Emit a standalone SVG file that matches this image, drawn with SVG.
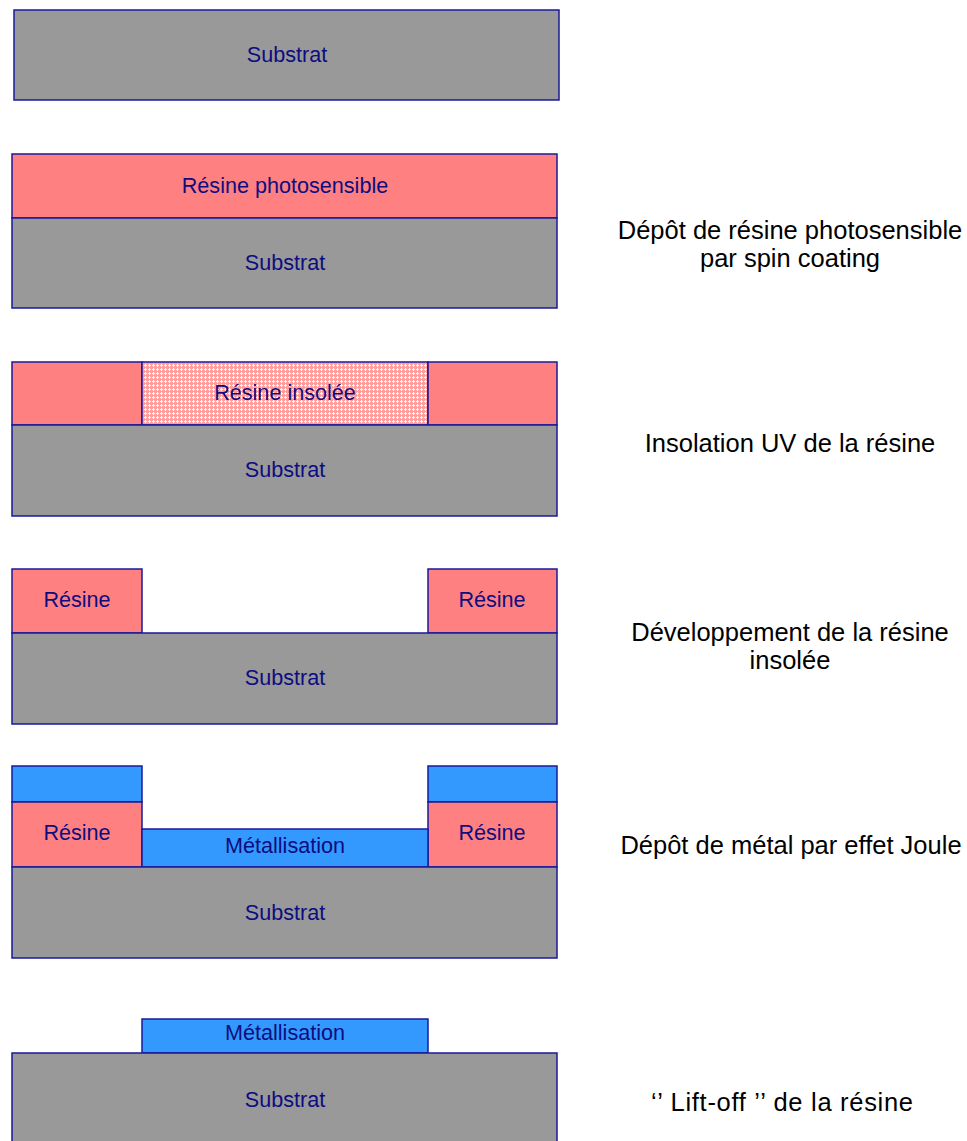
<svg xmlns="http://www.w3.org/2000/svg" width="967" height="1141" viewBox="0 0 967 1141">
<defs>
<pattern id="dots" width="4" height="4" patternUnits="userSpaceOnUse">
<rect width="4" height="4" fill="#ff9c9c"/>
<rect x="1" y="0" width="1" height="3" fill="#ffffff"/>
<rect x="0" y="1" width="3" height="1" fill="#ffffff"/>
</pattern>
</defs>
<style>
.sub{fill:#999999;stroke:#1a1a99;stroke-width:1.5}
.res{fill:#ff8080;stroke:#1a1a99;stroke-width:1.5}
.ins{fill:url(#dots);stroke:#1a1a99;stroke-width:1.5}
.met{fill:#3399ff;stroke:#1a1a99;stroke-width:1.5}
.t{font-family:"Liberation Sans",Arial,sans-serif;font-size:21.6px;fill:#0d0d80;text-anchor:middle}
.lbl{font-family:"Liberation Sans",Arial,sans-serif;font-size:25.5px;fill:#000000;text-anchor:middle}
</style>
<rect width="967" height="1141" fill="#ffffff"/>

<g id="step1">
<rect class="sub" x="14" y="10" width="545" height="90"/>
<text class="t" x="287" y="62">Substrat</text>
</g>

<g id="step2">
<rect class="res" x="12" y="154" width="545" height="64"/>
<rect class="sub" x="12" y="218" width="545" height="90"/>
<text class="t" x="285" y="193">Résine photosensible</text>
<text class="t" x="285" y="270">Substrat</text>
<text class="lbl" x="790" y="239">Dépôt de résine photosensible</text>
<text class="lbl" x="790" y="267">par spin coating</text>
</g>

<g id="step3">
<rect class="res" x="12" y="362" width="130" height="63"/>
<rect class="ins" x="142" y="362" width="286" height="63"/>
<rect class="res" x="428" y="362" width="129" height="63"/>
<rect class="sub" x="12" y="425" width="545" height="91"/>
<text class="t" x="285" y="400">Résine insolée</text>
<text class="t" x="285" y="477">Substrat</text>
<text class="lbl" x="790" y="452">Insolation UV de la résine</text>
</g>

<g id="step4">
<rect class="res" x="12" y="569" width="130" height="64"/>
<rect class="res" x="428" y="569" width="129" height="64"/>
<rect class="sub" x="12" y="633" width="545" height="91"/>
<text class="t" x="77" y="607">Résine</text>
<text class="t" x="492" y="607">Résine</text>
<text class="t" x="285" y="685">Substrat</text>
<text class="lbl" x="790" y="641">Développement de la résine</text>
<text class="lbl" x="790" y="669">insolée</text>
</g>

<g id="step5">
<rect class="met" x="12" y="766" width="130" height="36"/>
<rect class="met" x="428" y="766" width="129" height="36"/>
<rect class="res" x="12" y="802" width="130" height="65"/>
<rect class="res" x="428" y="802" width="129" height="65"/>
<rect class="met" x="142" y="829" width="286" height="38"/>
<rect class="sub" x="12" y="867" width="545" height="91"/>
<text class="t" x="77" y="840">Résine</text>
<text class="t" x="492" y="840">Résine</text>
<text class="t" x="285" y="853">Métallisation</text>
<text class="t" x="285" y="920">Substrat</text>
<text class="lbl" x="791" y="854">Dépôt de métal par effet Joule</text>
</g>

<g id="step6">
<rect class="met" x="142" y="1019" width="286" height="34"/>
<rect class="sub" x="12" y="1053" width="545" height="95"/>
<text class="t" x="285" y="1040">Métallisation</text>
<text class="t" x="285" y="1107">Substrat</text>
<text class="lbl" x="782" y="1111" textLength="262" lengthAdjust="spacing">‘’ Lift-off ’’ de la résine</text>
</g>
</svg>
